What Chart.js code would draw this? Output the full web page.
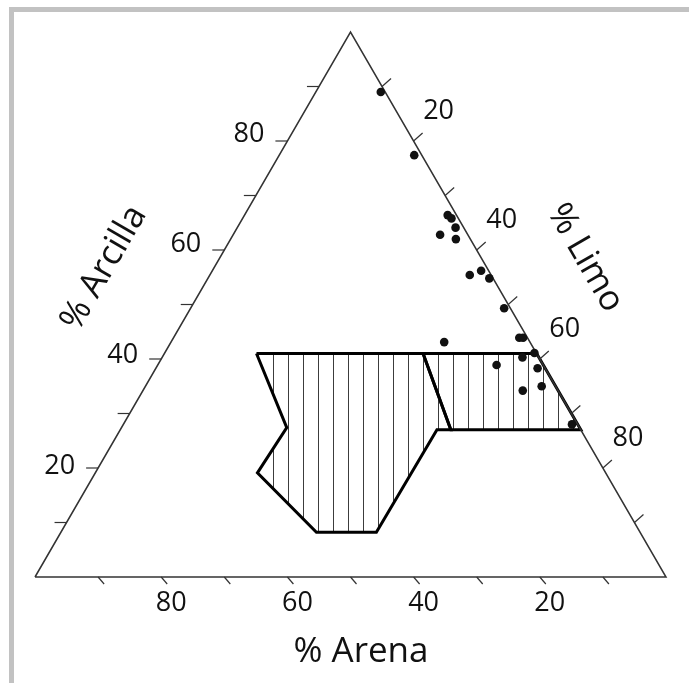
<!DOCTYPE html>
<html>
<head>
<meta charset="utf-8">
<script src="https://cdn.jsdelivr.net/npm/chart.js@4.4.1/dist/chart.umd.min.js"></script>
<style>
  html, body { margin: 0; padding: 0; background: #fff; overflow: hidden; }
  #wrap { position: relative; width: 689px; height: 683px; }
  #frame { position: absolute; left: 9px; top: 7px; right: 0; bottom: 0;
           border-top: 5px solid #c2c2c2; border-left: 5px solid #c2c2c2; }
  canvas { position: absolute; left: 0; top: 0; }
</style>
</head>
<body>
<div id="wrap">
  <div id="frame"></div>
  <canvas id="c" width="689" height="683"></canvas>
</div>
<script>
// Muestras: porcentajes de arcilla, limo y arena
const arcilla = [89.0, 77.4, 66.4, 65.8, 64.1, 62.8, 62.0, 49.3, 43.1, 43.9, 43.9, 41.1, 40.3, 38.9, 38.3, 34.2, 35.0, 28.0, 55.4, 56.2, 54.8];
const limo    = [10.3, 21.4, 32.2, 33.1, 34.6, 32.8, 35.7, 49.7, 43.3, 54.8, 55.4, 58.6, 57.1, 53.7, 60.5, 60.2, 62.8, 71.1, 41.2, 42.6, 44.6];
const arena   = [ 0.7,  1.2,  1.4,  1.1,  1.3,  4.4,  2.3,  1.0, 13.6,  1.3,  0.7,  0.3,  2.6,  7.4,  1.2,  5.6,  2.2,  0.9,  3.4,  1.2,  0.6];

// Zonas rayadas (vértices en % arcilla / % arena)
const zonaA_arcilla = [41.0, 41.0, 27.0, 27.0,  8.2,  8.2, 19.1, 27.4];
const zonaA_arena   = [44.4, 18.0, 20.6, 22.8, 41.8, 51.3, 55.2, 46.4];
const zonaB_arcilla = [41.0, 41.0, 27.0, 27.0];
const zonaB_arena   = [18.0,  0.0,  0.0, 20.6];

// Marcas y etiquetas de los ejes
const marcas = [10, 20, 30, 40, 50, 60, 70, 80, 90];
const etiquetas = [20, 40, 60, 80];
const tituloArcilla = '% Arcilla';
const tituloLimo = '% Limo';
const tituloArena = '% Arena';

const H = Math.sqrt(3) / 2;
// ternario -> cartesiano (lado = 100): arena 100 a la izquierda, limo 100 a la derecha, arcilla 100 arriba
function toXY(clay, silt) { return { x: silt + clay / 2, y: clay * H }; }
function zona(cl, sa) {
  const pts = cl.map((c, i) => toXY(c, 100 - c - sa[i]));
  pts.push(pts[0]);
  return pts;
}

const muestras = arcilla.map((c, i) => toXY(c, limo[i]));
const triangulo = [toXY(0, 0), toXY(0, 100), toXY(100, 0), toXY(0, 0)];

// patrón de rayado vertical
const pc = document.createElement('canvas');
pc.width = 15; pc.height = 15;
const pctx = pc.getContext('2d');
pctx.fillStyle = '#3c3c3c';
pctx.fillRect(3, 0, 1, 15);
const rayado = pctx.createPattern(pc, 'repeat');

const FONT = '"Open Sans", "Noto Sans", sans-serif';
const TXT = '#111';

const ejesTernarios = {
  id: 'ejesTernarios',
  afterDatasetsDraw(chart) {
    const { ctx, scales: { x, y } } = chart;
    const P = p => [x.getPixelForValue(p.x), y.getPixelForValue(p.y)];
    const seg = (a, b, c, d) => { ctx.beginPath(); ctx.moveTo(a, b); ctx.lineTo(c, d); ctx.stroke(); };
    ctx.save();
    ctx.strokeStyle = '#333';
    ctx.lineWidth = 1.2;
    marcas.forEach(v => {
      let [a, b] = P(toXY(v, 0));          // arcilla, lado izquierdo
      seg(a, b, a - 12, b);
      [a, b] = P(toXY(0, 100 - v));        // arena, base
      seg(a, b, a + 6, b + 7);
      [a, b] = P(toXY(100 - v, v));        // limo, lado derecho
      seg(a, b, a + 9, b - 8);
    });

    ctx.fillStyle = TXT;
    ctx.font = '27px ' + FONT;
    etiquetas.forEach(v => {
      let [a, b] = P(toXY(v, 0));
      ctx.textAlign = 'right'; ctx.textBaseline = 'middle';
      ctx.fillText(String(v), a - 23, b - 2 - (v - 20) * 0.08);
      [a, b] = P(toXY(0, 100 - v));
      ctx.textAlign = 'center';
      ctx.fillText(String(v), a + 10, 603);
      [a, b] = P(toXY(100 - v, v));
      ctx.fillText(String(v), a + 25, b - 30);
    });

    ctx.font = '35px ' + FONT;
    ctx.textAlign = 'center'; ctx.textBaseline = 'middle';
    ctx.fillText(tituloArena, 361, 652);
    ctx.save();
    ctx.translate(104, 268); ctx.rotate(-Math.PI / 3);
    ctx.fillText(tituloArcilla, 0, 0);
    ctx.restore();
    ctx.save();
    ctx.translate(585, 258); ctx.rotate(Math.PI / 3);
    ctx.fillText(tituloLimo, 0, 0);
    ctx.restore();
    ctx.restore();
  }
};

new Chart(document.getElementById('c'), {
  type: 'line',
  data: {
    datasets: [
      {
        data: muestras, showLine: false, pointRadius: 4.3,
        pointBackgroundColor: '#111', pointBorderWidth: 0, clip: false
      },
      {
        data: triangulo, borderColor: '#333', borderWidth: 1.5,
        pointRadius: 0, tension: 0, fill: false, clip: false
      },
      {
        data: zona(zonaA_arcilla, zonaA_arena), borderColor: '#000', borderWidth: 3,
        backgroundColor: rayado, fill: 'shape', pointRadius: 0, tension: 0,
        borderJoinStyle: 'miter', clip: false
      },
      {
        data: zona(zonaB_arcilla, zonaB_arena), borderColor: '#000', borderWidth: 3,
        backgroundColor: rayado, fill: 'shape', pointRadius: 0, tension: 0,
        borderJoinStyle: 'miter', clip: false
      }
    ]
  },
  options: {
    responsive: false,
    animation: false,
    events: [],
    layout: { padding: { left: 35, right: 23, top: 32, bottom: 106 } },
    plugins: { legend: { display: false }, tooltip: { enabled: false } },
    scales: {
      x: { type: 'linear', min: 0, max: 100, display: false },
      y: { type: 'linear', min: 0, max: 100 * H, display: false }
    }
  },
  plugins: [ejesTernarios]
});
</script>
</body>
</html>
